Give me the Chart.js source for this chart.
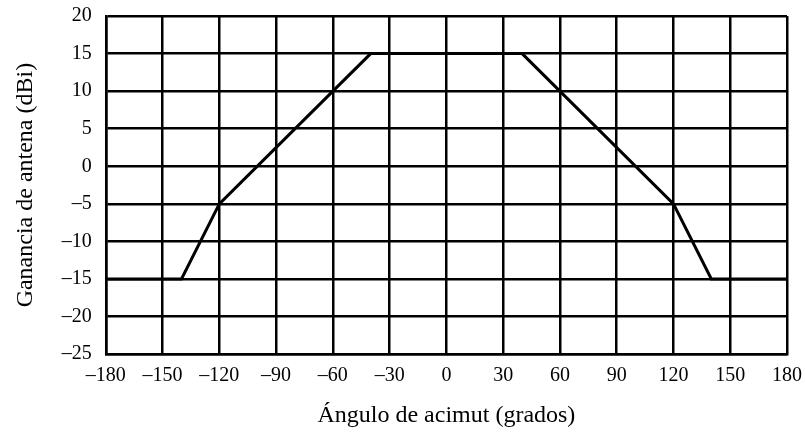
<!DOCTYPE html>
<html>
<head>
<meta charset="utf-8">
<script src="https://cdn.jsdelivr.net/npm/chart.js@4/dist/chart.umd.min.js"></script>
<style>
html,body{margin:0;padding:0;background:#fff;}
#wrap{width:805px;height:436px;}
</style>
</head>
<body>
<div id="wrap"><canvas id="c" width="805" height="436"></canvas></div>
<script>
const angles = [-180, -140, -120, -40, 40, 120, 140, 180];
const gains  = [-15, -15, -5, 15, 15, -5, -15, -15];
const xTitle = 'Ángulo de acimut (grados)';
const yTitle = 'Ganancia de antena (dBi)';
const xRange = [-180, 180];
const yRange = [-25, 20];

const fmt = v => (v < 0 ? '\u2013' + Math.abs(v) : String(v));
const fam = '"Liberation Serif", "Times New Roman", serif';
const tickFont = {family: fam, size: 20};
const titleFont = {family: fam, size: 24};

new Chart(document.getElementById('c'), {
  type: 'line',
  data: {
    datasets: [{
      data: angles.map((a, i) => ({x: a, y: gains[i]})),
      borderColor: '#000',
      borderWidth: 3,
      pointRadius: 0,
      tension: 0,
      fill: false
    }]
  },
  options: {
    responsive: false,
    animation: false,
    layout: {padding: {left: 11, right: 0, top: 4, bottom: 6}},
    plugins: {legend: {display: false}, tooltip: {enabled: false}},
    scales: {
      x: {
        type: 'linear', min: xRange[0], max: xRange[1],
        afterFit: s => { s.paddingRight = 18; },
        ticks: {stepSize: 30, color: '#000', font: tickFont, padding: 10, maxRotation: 0, callback: fmt},
        grid: {color: '#000', lineWidth: 2.5, drawTicks: false},
        border: {color: '#000', width: 2.5},
        title: {display: true, text: xTitle, color: '#000', font: titleFont, padding: {top: 3, bottom: 0}}
      },
      y: {
        min: yRange[0], max: yRange[1],
        afterFit: s => { s.paddingTop = 16; },
        ticks: {stepSize: 5, color: '#000', font: tickFont, padding: 14, callback: fmt},
        grid: {color: '#000', lineWidth: 2.5, drawTicks: false},
        border: {color: '#000', width: 2.5},
        title: {display: true, text: yTitle, color: '#000', font: titleFont, padding: {top: 0, bottom: 8}}
      }
    }
  }
});
</script>
</body>
</html>
